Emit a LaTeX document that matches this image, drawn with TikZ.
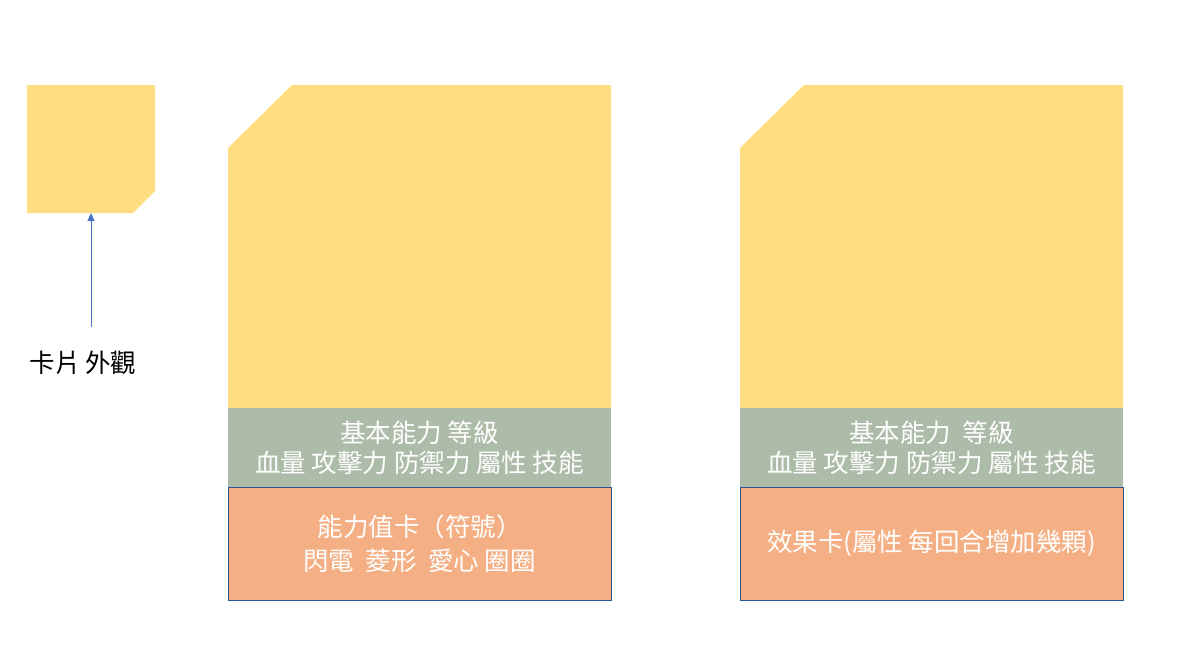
\documentclass[tikz,border=0pt]{standalone}
\usepackage{fontspec}
\setmainfont{Noto Sans CJK TC}
\usetikzlibrary{arrows.meta}
\definecolor{cardyellow}{HTML}{FFDE82}
\definecolor{bandgray}{HTML}{ADBCA9}
\definecolor{boxorange}{HTML}{F4B084}
\definecolor{boxborder}{HTML}{2F5597}
\definecolor{arrowblue}{HTML}{4472C4}
\tikzset{
  cardfill/.style={fill=cardyellow, draw=none},
  band/.style={fill=bandgray, draw=none, minimum width=383pt, minimum height=79pt, inner sep=0pt, text=white, font=\fontsize{25.5}{30}\selectfont, align=center},
  effbox/.style={fill=boxorange, draw=boxborder, line width=0.9pt, minimum width=383pt, minimum height=113pt, inner sep=0pt, text=white, font=\fontsize{25.5}{34}\selectfont, align=center},
  lbl/.style={font=\fontsize{25.5}{30}\selectfont, text=black, inner sep=0pt},
  conn/.style={draw=arrowblue, line width=0.9pt, -{Triangle[length=8pt,width=7pt]}}
}
\begin{document}
\begin{tikzpicture}[x=1pt,y=-1pt]
\useasboundingbox (0,0) rectangle (1203,657);
% small card
\fill[cardyellow] (27,85) -- (155,85) -- (155,191) -- (133,213) -- (27,213) -- cycle;
\coordinate (smallbot) at (91,213);
\node[lbl] (look) at (83,363) {卡片\,外觀};
\coordinate (arrstart) at (91,327);
\draw[conn] (arrstart) -- (smallbot);
% card 1
\fill[cardyellow] (228,148) -- (292,85) -- (611,85) -- (611,408) -- (228,408) -- cycle;
\node[band] (band1) at (419.5,447.5) {基本能力 等級\\血量 攻擊力 防禦力 屬性 技能};
\node[effbox] (eff1) at (419.5,543.5) {能力值卡（符號）\\閃電 \ 菱形 \ 愛心 圈圈};
% card 2
\fill[cardyellow] (740,148) -- (804,85) -- (1123,85) -- (1123,408) -- (740,408) -- cycle;
\node[band] (band2) at (931.5,447.5) {基本能力 \ 等級\\血量 攻擊力 防禦力 屬性 技能};
\node[effbox] (eff2) at (931.5,543.5) {效果卡(屬性 每回合增加幾顆)};
\end{tikzpicture}
\end{document}
